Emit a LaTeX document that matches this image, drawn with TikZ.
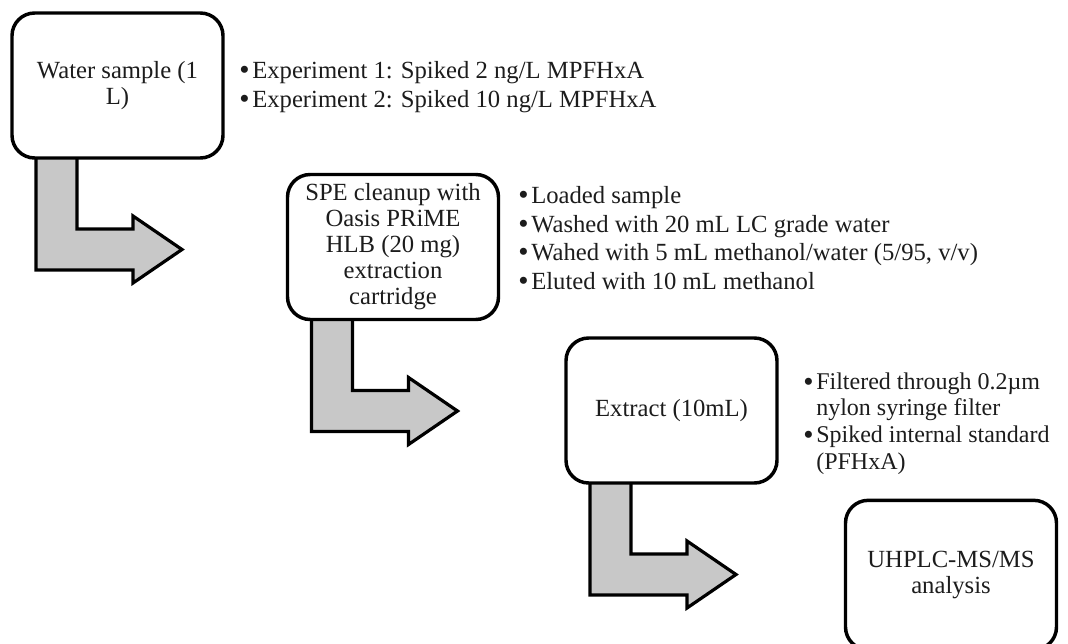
\documentclass[tikz,border=0pt]{standalone}
\usepackage{fontspec}
\setmainfont{Liberation Serif}
\usetikzlibrary{calc}
\pgfdeclarelayer{bg}
\pgfsetlayers{bg,main}
\definecolor{arrowfill}{RGB}{200,200,200}
\definecolor{ink}{RGB}{28,28,28}
% bullet hanging left of an item
\newcommand\bul{\makebox[0pt][r]{\raisebox{-1.2pt}{\fontsize{22}{22}\selectfont •}\hspace{2pt}}}
% bent (down then right) block arrow below a box; #1 = box corner
\newcommand\bentarrow[1]{%
  \begin{pgfonlayer}{bg}
  \draw[flowarrow] ($(#1)+(24,-3)$) -- ++(41,0) -- ++(0,74) -- ++(56,0)
      -- ++(0,-13) -- ++(49,33.5) -- ++(-49,33.5) -- ++(0,-13)
      -- ++(-97,0) -- cycle;
  \end{pgfonlayer}}
\tikzset{
  stepbox/.style={draw=black, line width=2.6pt, fill=white, rounded corners=17pt,
    minimum width=158.25pt, minimum height=108.75pt, outer sep=0pt, inner sep=6pt,
    align=center, text=ink, font=\fontsize{18.5}{19.5}\selectfont},
  flowarrow/.style={draw=black, line width=2.4pt, fill=arrowfill, line join=miter},
  item/.style={anchor=base west, inner sep=0pt, text=ink,
    font=\fontsize{18.5}{19.5}\selectfont},
  itemblock/.style={anchor=north west, inner sep=0pt, text=ink, align=left,
    font=\fontsize{18}{19.9}\selectfont},
}
\begin{document}
\begin{tikzpicture}[x=0.75pt, y=-0.75pt]
  \useasboundingbox (0,0) rectangle (1068,643);
  \clip (0,0) rectangle (1068,643);

  % process steps
  \node[stepbox] (water)   at (117.5,85.5) {Water sample (1\\L)};
  \node[stepbox] (spe)     at (393,247)    {SPE cleanup with\\Oasis PRiME\\HLB (20 mg)\\extraction\\cartridge};
  \node[stepbox] (extract) at (671.5,410.5) {Extract (10mL)};
  \node[stepbox, minimum height=112pt] (uhplc) at (951,575) {UHPLC-MS/MS\\analysis};

  % flow arrows between the steps
  \bentarrow{water.south west}
  \bentarrow{spe.south west}
  \bentarrow{extract.south west}

  % notes for the water sample
  \node[item] (n1a) at (252,78)  {\bul Experiment 1: Spiked 2 ng/L MPFHxA};
  \node[item] (n1b) at (252,107) {\bul Experiment 2: Spiked 10 ng/L MPFHxA};

  % notes for the SPE cleanup
  \node[item] (n2a) at (531,203) {\bul Loaded sample};
  \node[item] (n2b) at (531,232) {\bul Washed with 20 mL LC grade water};
  \node[item] (n2c) at (531,260) {\bul Wahed with 5 mL methanol/water (5/95, v/v)};
  \node[item] (n2d) at (531,289) {\bul Eluted with 10 mL methanol};

  % notes for the extract (wrapped items)
  \node[itemblock] (n3) at (816,372.5)
    {\bul Filtered through 0.2µm\\nylon syringe filter\\\bul Spiked internal standard\\(PFHxA)};
\end{tikzpicture}
\end{document}
